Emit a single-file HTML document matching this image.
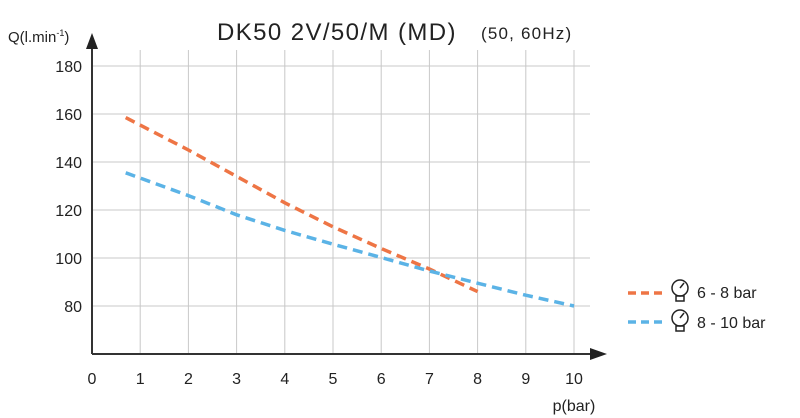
<!DOCTYPE html>
<html><head><style>body{margin:0;background:#fff}svg{display:block;font-family:"Liberation Sans",sans-serif}</style></head><body>
<svg width="800" height="418" viewBox="0 0 800 418">
<g stroke="#c8c8c8" stroke-width="1">
<line x1="140.2" y1="50" x2="140.2" y2="354"/><line x1="188.4" y1="50" x2="188.4" y2="354"/><line x1="236.6" y1="50" x2="236.6" y2="354"/><line x1="284.8" y1="50" x2="284.8" y2="354"/><line x1="333" y1="50" x2="333" y2="354"/><line x1="381.2" y1="50" x2="381.2" y2="354"/><line x1="429.4" y1="50" x2="429.4" y2="354"/><line x1="477.6" y1="50" x2="477.6" y2="354"/><line x1="525.8" y1="50" x2="525.8" y2="354"/><line x1="574" y1="50" x2="574" y2="354"/>
<line x1="92" y1="66" x2="590" y2="66"/><line x1="92" y1="114" x2="590" y2="114"/><line x1="92" y1="162" x2="590" y2="162"/><line x1="92" y1="210" x2="590" y2="210"/><line x1="92" y1="258" x2="590" y2="258"/><line x1="92" y1="306" x2="590" y2="306"/>
</g>
<g stroke="#333" stroke-width="2"><line x1="92" y1="354" x2="92" y2="44"/><line x1="92" y1="354" x2="592" y2="354"/></g>
<polygon points="92,33 86,49 98,49" fill="#222"/><polygon points="607,354 590,348 590,360" fill="#222"/>
<polyline fill="none" stroke="#ee7545" stroke-width="3.5" stroke-dasharray="10,6" points="125.7,117.6 188.4,150 236.6,176.4 284.8,202.8 333,226.8 381.2,248.5 429.4,269 477.6,291.6"/>
<polyline fill="none" stroke="#5bb3e6" stroke-width="3.5" stroke-dasharray="10,6" points="125.7,172.8 188.4,195.6 236.6,214.8 284.8,230.4 333,244.2 381.2,257.5 429.4,271 477.6,283.2 525.8,295.2 574,306"/>
<g font-size="16" fill="#222" text-anchor="end"><text x="82" y="72">180</text><text x="82" y="120">160</text><text x="82" y="168">140</text><text x="82" y="216">120</text><text x="82" y="264">100</text><text x="82" y="312">80</text></g>
<g font-size="16" fill="#222" text-anchor="middle"><text x="92" y="384">0</text><text x="140.2" y="384">1</text><text x="188.4" y="384">2</text><text x="236.6" y="384">3</text><text x="284.8" y="384">4</text><text x="333" y="384">5</text><text x="381.2" y="384">6</text><text x="429.4" y="384">7</text><text x="477.6" y="384">8</text><text x="525.8" y="384">9</text><text x="574" y="384">10</text></g>
<text x="574" y="411" font-size="16" fill="#222" text-anchor="middle">p(bar)</text>
<text x="8" y="42" font-size="15" fill="#222">Q(l.min<tspan font-size="9" dy="-6">-1</tspan><tspan dy="6">)</tspan></text>
<text x="217" y="40" font-size="24" fill="#222" letter-spacing="1.4">DK50 2V/50/M (MD)</text>
<text x="481" y="39" font-size="17" fill="#222" letter-spacing="1.2">(50, 60Hz)</text>
<line x1="628" y1="293" x2="662" y2="293" stroke="#ee7545" stroke-width="3.5" stroke-dasharray="8,5"/>
<line x1="628" y1="322" x2="662" y2="322" stroke="#5bb3e6" stroke-width="3.5" stroke-dasharray="8,5"/>
<g fill="none" stroke="#222" stroke-width="1.5"><circle cx="680" cy="288" r="8"/><line x1="680" y1="288" x2="684" y2="283"/><rect x="676" y="296" width="8" height="5"/><circle cx="680" cy="318" r="8"/><line x1="680" y1="318" x2="684" y2="313"/><rect x="676" y="326" width="8" height="5"/></g>
<text x="697" y="298" font-size="16" fill="#222">6 - 8 bar</text>
<text x="697" y="328" font-size="16" fill="#222">8 - 10 bar</text>
</svg>
</body></html>
